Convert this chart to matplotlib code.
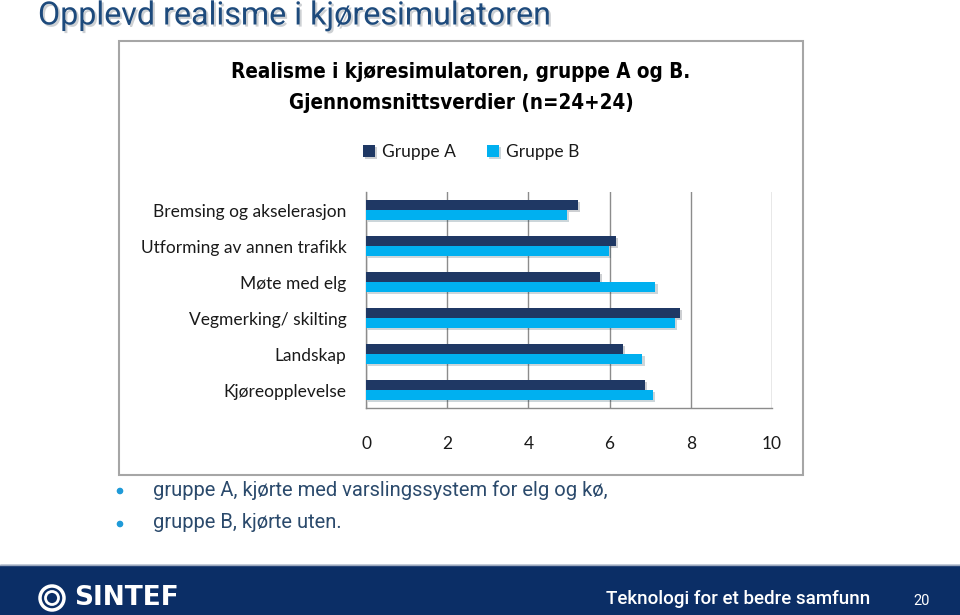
import matplotlib
matplotlib.use("Agg")
import matplotlib.pyplot as plt
import matplotlib.patheffects as pe
from matplotlib.patches import Rectangle, Circle
import numpy as np

categories = ["Bremsing og akselerasjon", "Utforming av annen trafikk", "Møte med elg",
              "Vegmerking/ skilting", "Landskap", "Kjøreopplevelse"]
gruppe_a = [5.23, 6.15, 5.76, 7.73, 6.32, 6.86]
gruppe_b = [4.96, 5.99, 7.13, 7.62, 6.81, 7.06]
xticks = [0, 2, 4, 6, 8, 10]
series_names = ["Gruppe A", "Gruppe B"]

W, H = 960, 615
fig = plt.figure(figsize=(9.6, 6.15), dpi=100)
fig.patch.set_facecolor("white")

# background / decoration axes in pixel coordinates
bg = fig.add_axes([0, 0, 1, 1])
bg.set_xlim(0, W)
bg.set_ylim(H, 0)
bg.axis("off")
bg.set_zorder(0)

# slide title
bg.text(38, 16, "Opplevd realisme i kjøresimulatoren", fontsize=23.2, family="Roboto",
        color="#1d4a7c", va="center", ha="left",
        path_effects=[pe.withSimplePatchShadow(offset=(1.5, -1.5), alpha=0.2)])

# chart box
bg.add_patch(Rectangle((119, 41), 684, 434, fill=False, ec="#a6a6a6", lw=1.5))

# chart title
for yy, t in [(72, "Realisme i kjøresimulatoren, gruppe A og B."),
              (103, "Gjennomsnittsverdier (n=24+24)")]:
    bg.text(461, yy, t, fontsize=14.8, family="DejaVu Sans", stretch="condensed",
            weight="bold", color="black", ha="center", va="center")

# bullets
txtc = "#2b4a6c"
for yy, t in [(490, "gruppe A, kjørte med varslingssystem for elg og kø,"),
              (523, "gruppe B, kjørte uten.")]:
    bg.add_patch(Circle((120, yy + 1), 2.6, color="#1f9ad8"))
    bg.text(153, yy, t, fontsize=14.5, family="Roboto", color=txtc,
            ha="left", va="center")

# footer band
bg.add_patch(Rectangle((0, 565), W, 50, color="#0b2e66", zorder=1))
bg.plot([0, W], [565, 565], color="#9aa7bd", lw=1, zorder=2)
bg.add_patch(Circle((52, 598), 12, fill=False, ec="white", lw=2.5, zorder=3))
bg.add_patch(Circle((52, 598), 6.5, fill=False, ec="white", lw=2, zorder=3))
bg.text(74, 598, "SINTEF", fontsize=19, weight="heavy", family="DejaVu Sans", color="white",
        ha="left", va="center", zorder=3)
bg.text(606, 599, "Teknologi for et bedre samfunn", fontsize=13.5, family="Roboto",
        weight="medium", color="white", ha="left", va="center", zorder=3)
bg.text(922, 601, "20", fontsize=10.5, family="Roboto", color="white",
        ha="center", va="center", zorder=3)

# chart axes
x0, x1, y0, y1 = 366, 772, 192, 408
ax = fig.add_axes([x0 / W, 1 - y1 / H, (x1 - x0) / W, (y1 - y0) / H])
ax.set_zorder(2)
ax.patch.set_alpha(0)

n = len(categories)
ypos = np.arange(n)
h = 0.28
shadow = [pe.withSimplePatchShadow(offset=(1.5, -1.5), alpha=0.2)]
ba = ax.barh(ypos - h / 2, gruppe_a, height=h, color="#1f3864", label=series_names[0],
             zorder=3)
bb = ax.barh(ypos + h / 2, gruppe_b, height=h, color="#00b0f0", label=series_names[1],
             zorder=3)
for b in list(ba) + list(bb):
    b.set_path_effects(shadow)

ax.set_xlim(0, 10)
ax.set_ylim(n - 0.5, -0.5)
ax.set_xticks(xticks)
ax.set_xticklabels([str(t) for t in xticks])
ax.set_yticks(ypos)
ax.set_yticklabels(categories)
ax.grid(axis="x", color="#8c8c8c", lw=1.0, zorder=0)
for gl in ax.get_xgridlines():
    gl.set_snap(True)
ax.set_axisbelow(True)
for s in ["top", "right"]:
    ax.spines[s].set_visible(False)
for s in ["left", "bottom"]:
    ax.spines[s].set_color("#8c8c8c")
    ax.spines[s].set_linewidth(1)
ax.tick_params(axis="x", length=0, pad=20, labelsize=12.5, labelcolor="#1a1a1a")
ax.tick_params(axis="y", length=0, pad=14, labelsize=12.5, labelcolor="#1a1a1a")
for lab in ax.get_xticklabels() + ax.get_yticklabels():
    lab.set_family("Lato")

leg = ax.legend(loc="center", bbox_to_anchor=((471 - x0) / (x1 - x0),
                                                (y1 - 152) / (y1 - y0)),
                ncol=2, frameon=False, prop={"family": "Lato", "size": 12.5},
                handlelength=0.7, handleheight=0.7, handletextpad=0.4, columnspacing=1.8)
for t in leg.get_texts():
    t.set_color("#1a1a1a")

fig.savefig("out.png", dpi=100)
